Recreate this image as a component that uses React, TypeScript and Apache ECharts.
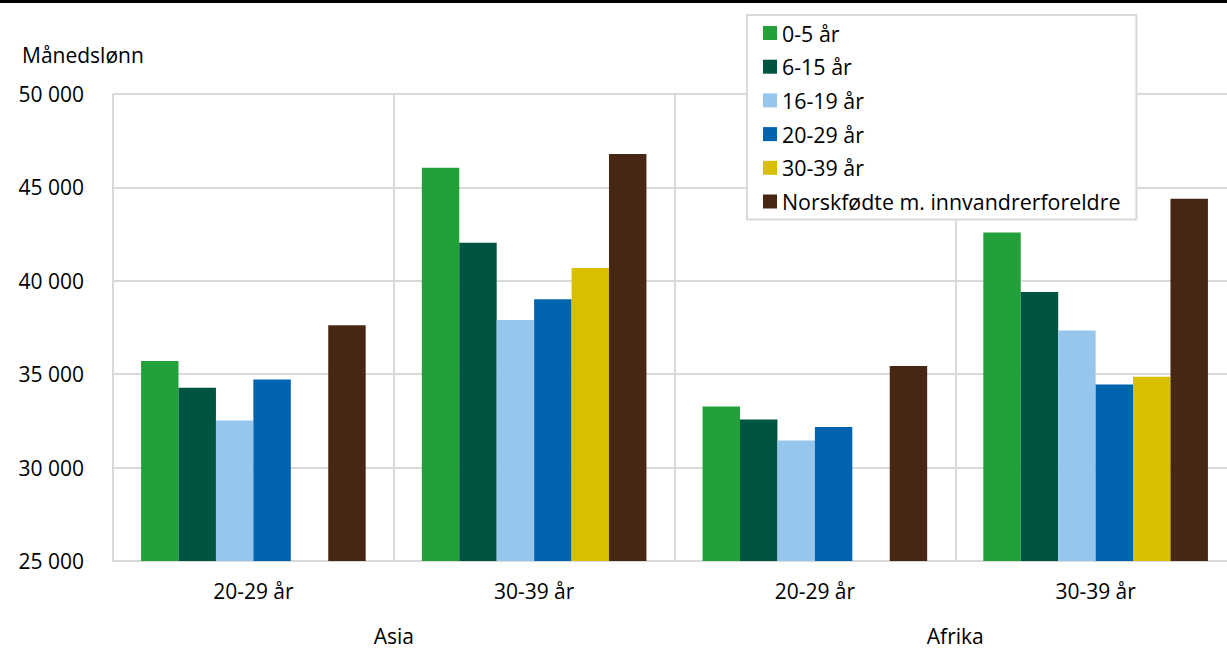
import React, { useEffect, useRef } from "react";
import * as echarts from "echarts";

const categories = ["20-29 år", "30-39 år", "20-29 år", "30-39 år"];
const groups = ["Asia", "Afrika"];
const seriesNames = [
  "0-5 år",
  "6-15 år",
  "16-19 år",
  "20-29 år",
  "30-39 år",
  "Norskfødte m. innvandrerforeldre",
];
const colors = ["#22A03A", "#005442", "#96C6EB", "#0063AF", "#D8BF00", "#472714"];

const s0_5 = [35710, 46050, 33270, 42590];
const s6_15 = [34270, 42040, 32575, 39395];
const s16_19 = [32520, 37900, 31450, 37345];
const s20_29 = [34715, 39010, 32180, 34445];
const s30_39 = [null, 40680, null, 34860];
const sNorsk = [37620, 46790, 35445, 44390];
const seriesValues = [s0_5, s6_15, s16_19, s20_29, s30_39, sNorsk];

const yMin = 25000;
const yMax = 50000;
const yInterval = 5000;

const FONT = "'Open Sans', 'Noto Sans', sans-serif";
const FS = 21;

export default function App() {
  const ref = useRef<HTMLDivElement>(null);
  useEffect(() => {
    if (!ref.current) return;
    const chart = echarts.init(ref.current, null, { renderer: "svg" });
    const fmt = (v: number) => {
      const s = String(Math.round(v));
      return s.replace(/\B(?=(\d{3})+(?!\d))/g, " ");
    };
    chart.setOption({
      animation: false,
      backgroundColor: "#ffffff",
      textStyle: { fontFamily: FONT },
      grid: { left: 113, top: 94, bottom: 87, right: 0, containLabel: false },
      legend: {
        orient: "vertical",
        left: 747,
        top: 15,
        padding: [6, 16, 6, 16],
        itemWidth: 14,
        itemHeight: 14,
        itemGap: 9.7,
        icon: "rect",
        backgroundColor: "#ffffff",
        borderColor: "#d9d9d9",
        borderWidth: 2,
        textStyle: { fontFamily: FONT, fontSize: 21.4, color: "#000", lineHeight: 24 },
        data: seriesNames,
      },
      xAxis: [
        {
          type: "category",
          data: categories,
          position: "bottom",
          axisLine: { show: true, lineStyle: { color: "#d9d9d9", width: 2 } },
          axisTick: { show: false },
          splitLine: { show: true, lineStyle: { color: "#d9d9d9", width: 2 } },
          axisLabel: { fontFamily: FONT, fontSize: FS, color: "#000", margin: 19 },
        },
        {
          type: "category",
          data: groups,
          position: "bottom",
          offset: 45,
          axisLine: { show: false },
          axisTick: { show: false },
          splitLine: { show: false },
          axisLabel: { fontFamily: FONT, fontSize: FS, color: "#000", margin: 19 },
        },
      ],
      yAxis: {
        type: "value",
        min: yMin,
        max: yMax,
        interval: yInterval,
        axisLine: { show: false },
        axisTick: { show: false },
        splitLine: { show: true, lineStyle: { color: "#d9d9d9", width: 2 } },
        axisLabel: {
          fontFamily: FONT,
          fontSize: FS,
          color: "#000",
          margin: 29,
          formatter: fmt,
        },
      },
      graphic: [
        {
          type: "rect",
          left: 0,
          top: 0,
          shape: { width: 1240, height: 3 },
          style: { fill: "#000" },
        },
        {
          type: "text",
          left: 22,
          top: 44,
          style: { text: "Månedslønn", font: `${FS}px ${FONT}`, fill: "#000" },
        },
      ],
      series: seriesNames.map((name, i) => ({
        name,
        type: "bar",
        xAxisIndex: 0,
        data: seriesValues[i],
        barGap: "0%",
        barCategoryGap: "20%",
        itemStyle: { color: colors[i] },
      })),
    });
    return () => chart.dispose();
  }, []);
  return (
    <div
      style={{
        position: "absolute",
        left: 0,
        top: 0,
        width: 1227,
        height: 648,
        overflow: "hidden",
      }}
    >
      <div ref={ref} style={{ width: 1236, height: 648 }} />
    </div>
  );
}
